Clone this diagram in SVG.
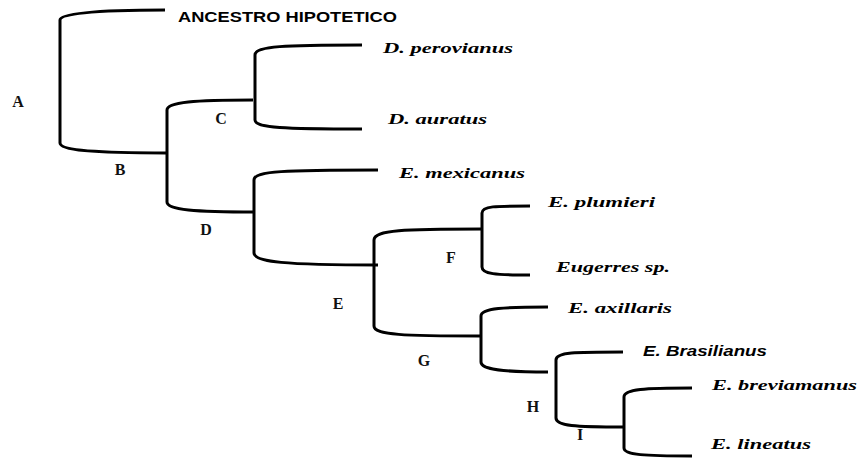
<svg xmlns="http://www.w3.org/2000/svg" width="862" height="458" viewBox="0 0 862 458">
<style>
.br{fill:none;stroke:#000;stroke-width:3;stroke-linecap:butt}
.lbl{font-family:"Liberation Serif","Times New Roman",serif;font-weight:bold;font-size:16px;fill:#111;text-anchor:middle}
.sp{font-family:"Liberation Serif","Times New Roman",serif;font-weight:bold;font-style:italic;font-size:15px;fill:#000}
.sans{font-family:"Liberation Sans",Arial,sans-serif;font-weight:bold;font-size:14px;fill:#000}
</style>
<rect width="862" height="458" fill="#fff"/>
<g id="connectors">
<path class="br" d="M165,10 C90,10 60,14 60,20 L60,143 C60,150 90,153 167,153"/>
<path class="br" d="M253,100 C195,100 167,102 167,110 L167,202 C167,210 195,212 255,212"/>
<path class="br" d="M362,45 C285,45 255,46 255,55 L255,120 C255,128 285,129 362,129"/>
<path class="br" d="M378,170 C285,170 254,171 254,180 L254,253 C254,262 285,265 378,265"/>
<path class="br" d="M482,229 C404,229 374,230 374,240 L374,326 C374,335 404,336 481,336"/>
<path class="br" d="M530,206 C495,206 482,206 482,213 L482,267 C482,274 495,275 530,275"/>
<path class="br" d="M548,307 C505,307 481,308 481,316 L481,362 C481,370 505,372 548,372"/>
<path class="br" d="M623,352 C575,352 556,352 556,360 L556,418 C556,426 575,427 624,427"/>
<path class="br" d="M692,388 C645,388 624,389 624,397 L624,448 C624,455 645,456 692,456"/>
</g>
<g id="node-A"><text class="lbl" x="18" y="107">A</text></g>
<g id="node-B"><text class="lbl" x="120" y="175">B</text></g>
<g id="node-C"><text class="lbl" x="221" y="124">C</text></g>
<g id="node-D"><text class="lbl" x="206" y="235">D</text></g>
<g id="node-E"><text class="lbl" x="338" y="309">E</text></g>
<g id="node-F"><text class="lbl" x="451" y="263">F</text></g>
<g id="node-G"><text class="lbl" x="424" y="366">G</text></g>
<g id="node-H"><text class="lbl" x="533" y="412">H</text></g>
<g id="node-I"><text class="lbl" x="580" y="440">I</text></g>
<g id="leaf-ancestro"><text class="sans" x="178" y="22" textLength="219" lengthAdjust="spacingAndGlyphs">ANCESTRO HIPOTETICO</text></g>
<g id="leaf-perovianus"><text class="sp" x="383" y="53" textLength="130" lengthAdjust="spacingAndGlyphs">D. perovianus</text></g>
<g id="leaf-auratus"><text class="sp" x="388" y="124" textLength="99" lengthAdjust="spacingAndGlyphs">D. auratus</text></g>
<g id="leaf-mexicanus"><text class="sp" x="399" y="178" textLength="126" lengthAdjust="spacingAndGlyphs">E. mexicanus</text></g>
<g id="leaf-plumieri"><text class="sp" x="548" y="207" textLength="107" lengthAdjust="spacingAndGlyphs">E. plumieri</text></g>
<g id="leaf-eugerres"><text class="sp" x="556" y="272" textLength="114" lengthAdjust="spacingAndGlyphs">Eugerres sp.</text></g>
<g id="leaf-axillaris"><text class="sp" x="568" y="313" textLength="104" lengthAdjust="spacingAndGlyphs">E. axillaris</text></g>
<g id="leaf-brasilianus"><text class="sans" font-style="italic" x="643" y="356" textLength="124" lengthAdjust="spacingAndGlyphs">E. Brasilianus</text></g>
<g id="leaf-breviamanus"><text class="sp" x="712" y="390" textLength="145" lengthAdjust="spacingAndGlyphs">E. breviamanus</text></g>
<g id="leaf-lineatus"><text class="sp" x="711" y="449" textLength="100" lengthAdjust="spacingAndGlyphs">E. lineatus</text></g>
</svg>
